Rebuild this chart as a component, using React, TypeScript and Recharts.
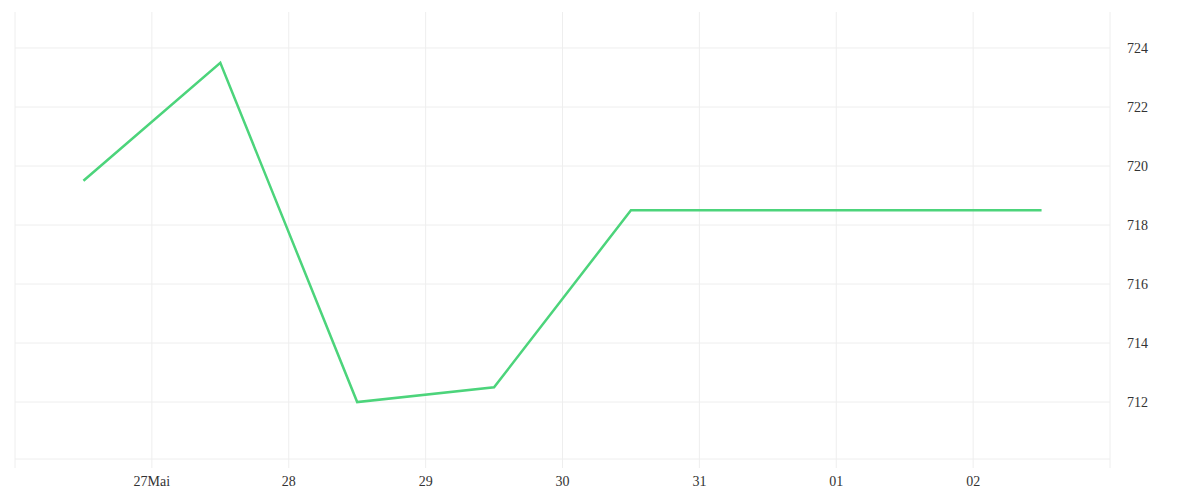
import { LineChart, Line, XAxis, YAxis, CartesianGrid } from 'recharts';

// day positions (x = 12:00 of each day, as fractional day index)
const days = [26.5, 27.5, 28.5, 29.5, 30.5, 31.5, 32.5, 33.5];
const values = [719.5, 723.5, 712, 712.5, 718.5, 718.5, 718.5, 718.5];

const xTicks = [26, 27, 28, 29, 30, 31, 32, 33, 34];
const xTickLabels = ['', '27Mai', '28', '29', '30', '31', '01', '02', ''];
const yTicks = [712, 714, 716, 718, 720, 722, 724];

const data = days.map((d, i) => ({ day: d, value: values[i] }));

export default function App() {
    return (
        <LineChart width={1192} height={492} data={data} margin={{ top: 4, right: 0, left: 7, bottom: 11 }}>
            <CartesianGrid stroke="#eeeeee" strokeWidth={1} horizontalValues={yTicks} verticalValues={xTicks} />
            <XAxis
                dataKey="day"
                type="number"
                domain={[26, 34]}
                ticks={xTicks}
                tickFormatter={(v: number) => xTickLabels[xTicks.indexOf(v)] ?? ''}
                stroke="#eeeeee"
                tickSize={9}
                tickMargin={8}
                height={30}
                tick={{ fill: '#333', fontSize: 14 }}
                interval={0}
            />
            <YAxis
                orientation="right"
                domain={[710.07, 725.22]}
                ticks={yTicks}
                axisLine={false}
                tickLine={false}
                tickMargin={11}
                width={90}
                tick={{ fill: '#333', fontSize: 14, textAnchor: 'start' }}
                allowDataOverflow
            />
            <Line
                type="linear"
                dataKey="value"
                stroke="#4cd47b"
                strokeWidth={2.5}
                dot={false}
                activeDot={false}
                isAnimationActive={false}
            />
        </LineChart>
    );
}
